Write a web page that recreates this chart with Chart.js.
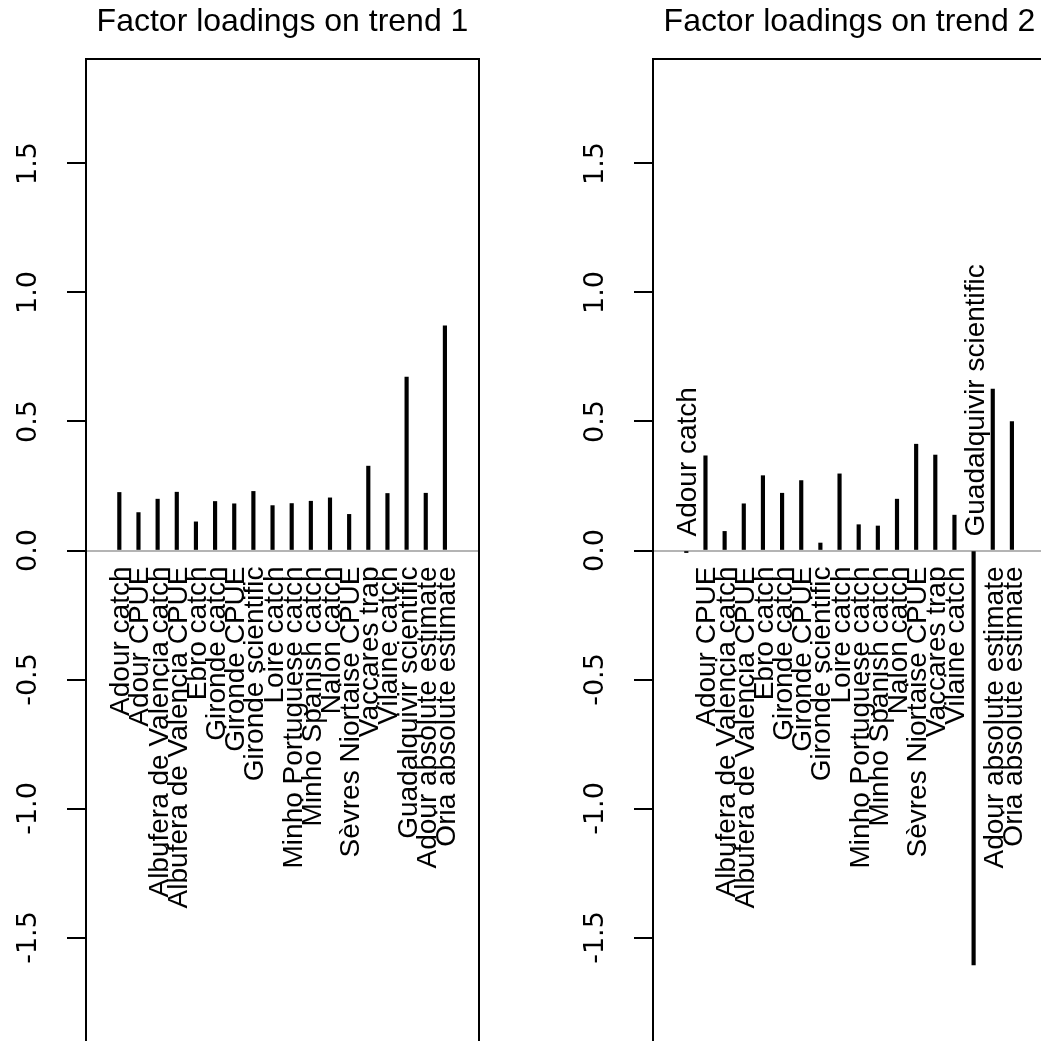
<!DOCTYPE html>
<html>
<head>
<meta charset="utf-8">
<script src="https://cdn.jsdelivr.net/npm/chart.js@4.4.1/dist/chart.umd.min.js"></script>
<style>
    html, body { margin: 0; padding: 0; background: #fff; overflow: hidden; width: 1041px; height: 1041px; }
    .panel { position: absolute; top: 0; width: 520px; height: 1046px; }
    #left { left: 0; }
    #right { left: 567px; }
</style>
</head>
<body>
<div class="panel" id="left"><canvas id="trend1"></canvas></div>
<div class="panel" id="right"><canvas id="trend2"></canvas></div>
<script>
(function() {
    'use strict';

    // series, in plotting order
    const seriesNames = [
        'Adour catch', 'Adour CPUE', 'Albufera de Valencia catch', 'Albufera de Valencia CPUE',
        'Ebro catch', 'Gironde catch', 'Gironde CPUE', 'Gironde scientific', 'Loire catch',
        'Minho Portuguese catch', 'Minho Spanish catch', 'Nalon catch', 'Sèvres Niortaise CPUE',
        'Vaccares trap', 'Vilaine catch', 'Guadalquivir scientific', 'Adour absolute estimate',
        'Oria absolute estimate'
    ];
    const positions = [1, 2, 3, 4, 5, 6, 7, 8, 9, 10, 11, 12, 13, 14, 15, 16, 17, 18];

    // factor loadings
    const loadingsTrend1 = [0.225, 0.147, 0.199, 0.226, 0.111, 0.190, 0.181, 0.229, 0.174,
        0.182, 0.191, 0.204, 0.140, 0.327, 0.221, 0.672, 0.222, 0.871];
    const loadingsTrend2 = [-0.008, 0.367, 0.074, 0.181, 0.290, 0.222, 0.271, 0.029, 0.297,
        0.100, 0.095, 0.199, 0.412, 0.370, 0.137, -1.606, 0.626, 0.500];

    const titles = ['Factor loadings on trend 1', 'Factor loadings on trend 2'];
    const yTicks = [-1.5, -1.0, -0.5, 0.0, 0.5, 1.0, 1.5];

    const Y_LIM = 1.905;
    const X_MIN = -0.74;
    const X_MAX = 19.78;

    // station names next to each line, below zero for positive loadings and above for negative
    const stationLabels = {
        id: 'stationLabels',
        afterDatasetsDraw(chart) {
            const ctx = chart.ctx;
            const meta = chart.getDatasetMeta(0);
            const values = chart.data.datasets[0].data;
            const y0 = chart.scales.y.getPixelForValue(0);
            ctx.save();
            ctx.font = '28px "Liberation Sans", Arial, sans-serif';
            ctx.fillStyle = '#000';
            ctx.textBaseline = 'alphabetic';
            meta.data.forEach(function(bar, i) {
                const v = values[i].y;
                ctx.save();
                ctx.translate(bar.x, v >= 0 ? y0 + 16 : y0 - 14);
                ctx.rotate(-Math.PI / 2);
                ctx.textAlign = v >= 0 ? 'right' : 'left';
                ctx.fillText(seriesNames[i], 0, 10);
                ctx.restore();
            });
            ctx.restore();
        }
    };

    const frameBox = {
        id: 'frameBox',
        afterDraw(chart) {
            const a = chart.chartArea;
            const ctx = chart.ctx;
            ctx.save();
            ctx.strokeStyle = '#000';
            ctx.lineWidth = 2;
            ctx.strokeRect(a.left, a.top, a.right - a.left, a.bottom - a.top);
            ctx.restore();
        }
    };

    function renderPanel(canvasId, title, values) {
        const ctx = document.getElementById(canvasId);
        return new Chart(ctx, {
            type: 'bar',
            data: {
                datasets: [{
                    data: positions.map((x, i) => ({ x: x, y: values[i] })),
                    backgroundColor: '#000',
                    borderWidth: 0,
                    barThickness: 3.5
                }]
            },
            options: {
                responsive: true,
                maintainAspectRatio: false,
                animation: false,
                devicePixelRatio: 1,
                layout: { padding: { left: 0, right: 41, top: 0, bottom: 4 } },
                plugins: {
                    legend: { display: false },
                    tooltip: { enabled: false },
                    title: {
                        display: true,
                        text: title,
                        fullSize: false,
                        color: '#000',
                        font: { family: '"Liberation Sans", Arial, sans-serif', size: 32, weight: 'normal', lineHeight: 1.2 },
                        padding: { top: 3, bottom: 17.6 }
                    }
                },
                scales: {
                    x: {
                        type: 'linear',
                        min: X_MIN,
                        max: X_MAX,
                        offset: false,
                        grid: { offset: false },
                        display: false
                    },
                    y: {
                        min: -Y_LIM,
                        max: Y_LIM,
                        afterBuildTicks: (scale) => {
                            scale.ticks = yTicks.map(v => ({ value: v }));
                        },
                        afterFit: (scale) => {
                            scale.width = 86;
                            scale.paddingTop = 0;
                            scale.paddingBottom = 0;
                        },
                        border: { display: false },
                        grid: {
                            drawOnChartArea: true,
                            drawTicks: true,
                            tickLength: 19,
                            lineWidth: 2,
                            tickWidth: 2,
                            tickColor: '#000',
                            color: (c) => (c.tick && c.tick.value === 0) ? '#b4b4b4' : 'rgba(0,0,0,0)'
                        },
                        ticks: {
                            minRotation: 90,
                            maxRotation: 90,
                            crossAlign: 'center',
                            padding: 12,
                            color: '#000',
                            font: { family: '"DejaVu Sans", sans-serif', size: 27 },
                            callback: (v) => Number(v).toFixed(1)
                        }
                    }
                }
            },
            plugins: [stationLabels, frameBox]
        });
    }

    renderPanel('trend1', titles[0], loadingsTrend1);
    renderPanel('trend2', titles[1], loadingsTrend2);
})();
</script>
</body>
</html>
